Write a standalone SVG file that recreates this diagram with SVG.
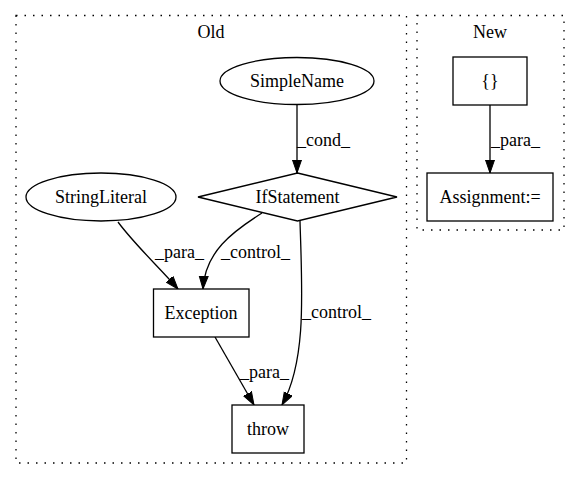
<svg xmlns="http://www.w3.org/2000/svg" width="580" height="480" viewBox="0 0 580 480">
<style>
text{font-family:"Liberation Serif","Times New Roman",serif;font-size:18px;fill:#000}
.c{text-anchor:middle}
.cl{fill:none;stroke:#000;stroke-width:1.3;stroke-dasharray:1.5,7}
.n{fill:#fff;stroke:#000;stroke-width:1.3}
.e{fill:none;stroke:#000;stroke-width:1.3;marker-end:url(#ah)}
</style>
<defs>
<marker id="ah" markerUnits="userSpaceOnUse" markerWidth="14" markerHeight="11" refX="13" refY="5" orient="auto">
<path d="M0,0.5 L13,5 L0,9.5 z" fill="#000" stroke="#000" stroke-width="1"/>
</marker>
</defs>
<rect width="580" height="480" fill="#fff"/>
<g id="cluster_old">
<rect class="cl" x="16" y="15.5" width="390.5" height="447.5"/>
<text class="c" x="211" y="38">Old</text>
</g>
<g id="cluster_new">
<rect class="cl" x="417" y="15.5" width="147" height="214.5"/>
<text class="c" x="490" y="38">New</text>
</g>
<g id="edges">
<path class="e" d="M297,105 L297,173"/>
<text x="297" y="146">_cond_</text>
<path class="e" d="M118,222 C135,245 160,268 178,289"/>
<text x="155" y="258">_para_</text>
<path class="e" d="M262,213 C232,232 205,252 203,289"/>
<text x="221" y="258">_control_</text>
<path class="e" d="M300,221 C302,290 307,360 282,405"/>
<text x="302" y="318">_control_</text>
<path class="e" d="M215,337 L254,405"/>
<text x="240" y="378">_para_</text>
<path class="e" d="M490,105 L490,173"/>
<text x="491" y="146">_para_</text>
</g>
<g id="SimpleName">
<ellipse class="n" cx="297" cy="81" rx="77" ry="23.5"/>
<text class="c" x="297" y="87">SimpleName</text>
</g>
<g id="IfStatement">
<polygon class="n" points="297.5,173 397,197 297.5,221 198,197"/>
<text class="c" x="297.5" y="203">IfStatement</text>
</g>
<g id="StringLiteral">
<ellipse class="n" cx="101" cy="197" rx="75" ry="24"/>
<text class="c" x="101" y="203">StringLiteral</text>
</g>
<g id="Exception">
<rect class="n" x="153.5" y="289" width="95.5" height="48"/>
<text class="c" x="201" y="319">Exception</text>
</g>
<g id="throw">
<rect class="n" x="232" y="405" width="72" height="48"/>
<text class="c" x="268" y="435">throw</text>
</g>
<g id="braces">
<rect class="n" x="453" y="57" width="74" height="48"/>
<text class="c" x="490" y="87">{}</text>
</g>
<g id="Assignment">
<rect class="n" x="427" y="173" width="126" height="48"/>
<text class="c" x="490" y="203">Assignment:=</text>
</g>
</svg>
